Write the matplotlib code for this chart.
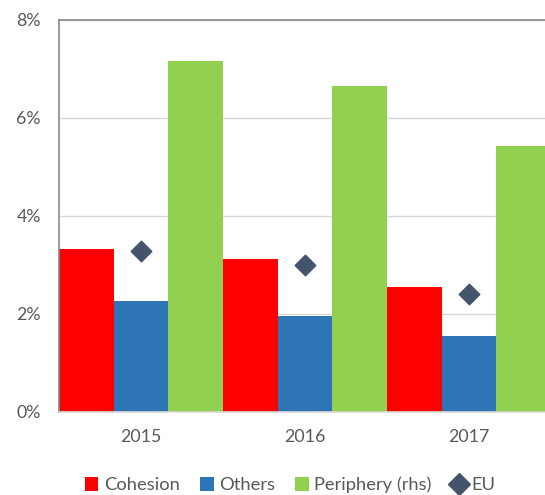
import matplotlib
matplotlib.use("Agg")
import matplotlib.pyplot as plt
from matplotlib.patches import Patch
from matplotlib.lines import Line2D
import numpy as np

years = ["2015", "2016", "2017"]
cohesion = [3.33, 3.12, 2.55]
others = [2.27, 1.96, 1.55]
periphery = [7.16, 6.65, 5.43]
eu = [3.29, 3.00, 2.41]

red = "#FF0000"
blue = "#2E75B6"
green = "#92D050"
navy = "#44546A"

plt.rcParams["font.family"] = ["Lato", "DejaVu Sans"]

fig = plt.figure(figsize=(5.45, 4.95), dpi=100)
# plot area runs slightly past the right edge, as in the cropped original
ax = fig.add_axes([0.108, 0.1677, 0.903, 0.7919])

x = np.arange(len(years))
w = 1 / 3
ax.bar(x - w, cohesion, width=w, color=red, zorder=2)
ax.bar(x, others, width=w, color=blue, zorder=2)
ax.bar(x + w, periphery, width=w, color=green, zorder=2)
ax.scatter(x, eu, marker="D", s=110, color=navy, zorder=3)

ax.set_xlim(-0.5, 2.5)
ax.set_ylim(0, 8)
ax.set_yticks([0, 2, 4, 6, 8])
ax.set_yticklabels(["0%", "2%", "4%", "6%", "8%"])
ax.set_xticks(x)
ax.set_xticklabels(years)
ax.tick_params(axis="both", length=0, labelsize=12.8, colors="#595959")
ax.tick_params(axis="x", pad=12)
ax.tick_params(axis="y", pad=13)

ax.grid(axis="y", color="#D9D9D9", linewidth=1, zorder=0)
ax.spines["left"].set_color("#898989")
ax.spines["top"].set_color("#898989")
ax.spines["bottom"].set_color("#D9D9D9")
ax.spines["right"].set_visible(False)
for s in ax.spines.values():
    s.set_linewidth(1.2)

handles = [
    Patch(facecolor=red, label="Cohesion"),
    Patch(facecolor=blue, label="Others"),
    Patch(facecolor=green, label="Periphery (rhs)"),
    Line2D([], [], marker="D", color=navy, linestyle="none", markersize=11, label="EU"),
]
fig.legend(handles=handles, loc="center", bbox_to_anchor=(0.532, 0.02), ncol=4,
           frameon=False, fontsize=13.2, handlelength=0.75, handleheight=0.75,
           handletextpad=0.3, columnspacing=1.1, labelcolor="#595959")

fig.savefig("out.png", dpi=100)
